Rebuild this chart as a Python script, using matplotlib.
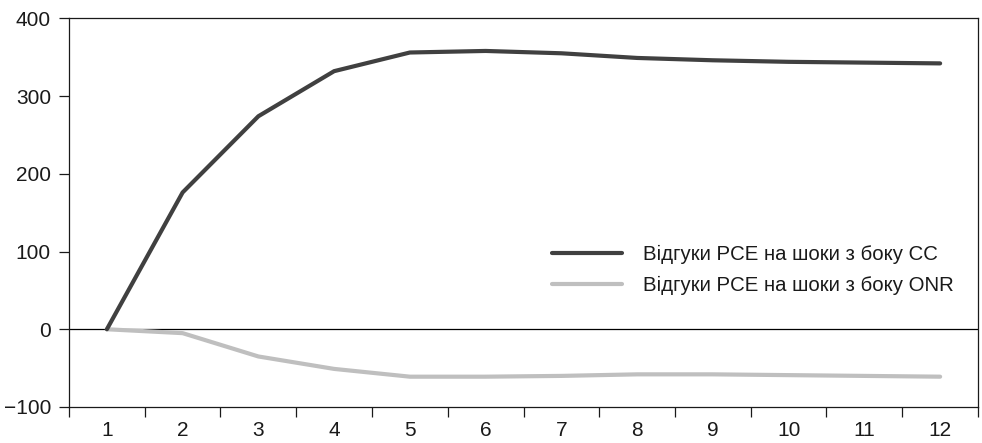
import matplotlib
matplotlib.use("Agg")
import matplotlib.pyplot as plt
import numpy as np
from matplotlib.ticker import FixedLocator, NullFormatter

plt.rcParams['font.family'] = ['Liberation Sans Narrow', 'Liberation Sans', 'DejaVu Sans']

periods = ["1", "2", "3", "4", "5", "6", "7", "8", "9", "10", "11", "12"]
cc_values = [0, 176, 274, 332, 356, 358, 355, 349, 346, 344, 343, 342]
onr_values = [0, -5, -35, -51, -61, -61, -60, -58, -58, -59, -60, -61]
cc_label = "Відгуки PCE на шоки з боку CC"
onr_label = "Відгуки PCE на шоки з боку ONR"
y_ticks = [-100, 0, 100, 200, 300, 400]
y_tick_labels = ["\u2212100", "0", "100", "200", "300", "400"]

fig = plt.figure(figsize=(9.82, 4.43), dpi=100)
ax = fig.add_axes([69/982, 1 - 407/443, (978 - 69)/982, (407 - 18.3)/443])

x = np.arange(len(periods))
ax.axhline(0, color='#000000', lw=0.9, zorder=1)
ax.plot(x, cc_values, color='#404040', lw=3.0, solid_capstyle='round', label=cc_label, zorder=3)
ax.plot(x, onr_values, color='#bfbfbf', lw=3.0, solid_capstyle='round', label=onr_label, zorder=2)

ax.set_xlim(-0.5, len(periods) - 0.5)
ax.set_ylim(-100, 400)
ax.set_yticks(y_ticks)
ax.set_yticklabels(y_tick_labels)
ax.set_xticks(x)
ax.set_xticklabels(periods)
ax.xaxis.set_minor_locator(FixedLocator(np.arange(-0.5, len(periods), 1.0)))
ax.xaxis.set_minor_formatter(NullFormatter())
ax.tick_params(axis='x', which='major', length=0, labelsize=15, pad=10, colors='#1a1a1a')
ax.tick_params(axis='x', which='minor', length=7, width=0.9, direction='out', color='#1a1a1a')
ax.tick_params(axis='y', which='major', length=7, width=0.9, direction='out', labelsize=15, pad=6, colors='#1a1a1a')
for s in ax.spines.values():
    s.set_linewidth(0.9)
    s.set_color('#1a1a1a')

leg = ax.legend(loc='upper left', bbox_to_anchor=(0.52, 0.442), frameon=False, fontsize=14.7,
                handlelength=3.45, handletextpad=1.0, labelspacing=0.58, borderpad=0)
for t in leg.get_texts():
    t.set_color('#1a1a1a')

fig.savefig("out.png", dpi=100)
